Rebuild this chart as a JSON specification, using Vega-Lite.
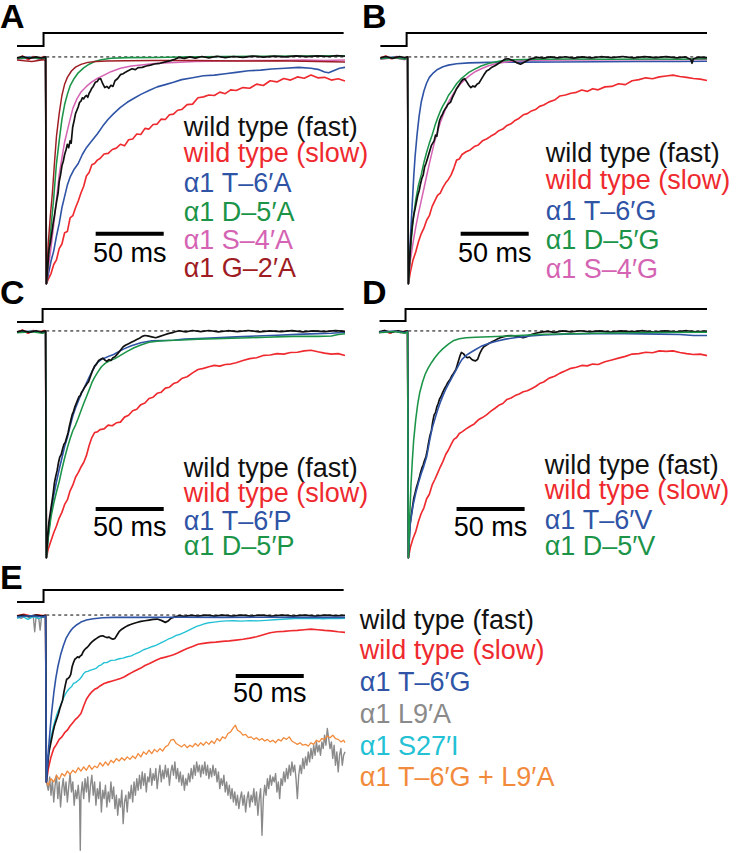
{
"$schema":"https://vega.github.io/schema/vega-lite/v6.json",
"background":"white",
"padding":{"left":0,"top":0,"right":0,"bottom":0},
"config":{"view":{"stroke":null},"axis":{"disable":true},"font":"Liberation Sans"},
"datasets":{
"stA":[{"t":-21,"v":0.048},{"t":-1.5,"v":0.106},{"t":219,"v":0.106}],
"stB":[{"t":-20,"v":0.048},{"t":-0.7,"v":0.106},{"t":220,"v":0.106}],
"stC":[{"t":-21,"v":0.04},{"t":-2.2,"v":0.097},{"t":219,"v":0.097}],
"stD":[{"t":-20.6,"v":0.044},{"t":-1.5,"v":0.097},{"t":220,"v":0.097}],
"stE":[{"t":-21,"v":0.078},{"t":-1.5,"v":0.15},{"t":219,"v":0.15}],
"labA":[{"k":"f","label":"wild type (fast)","t":101.5,"v":-0.348},{"k":"ws","label":"wild type (slow)","t":101.5,"v":-0.463},{"k":"b","label":"α1 T–6′A","t":101.5,"v":-0.595},{"k":"g","label":"α1 D–5′A","t":101.5,"v":-0.722},{"k":"p","label":"α1 S–4′A","t":101.5,"v":-0.846},{"k":"r","label":"α1 G–2′A","t":101.5,"v":-0.969}],
"labB":[{"k":"f","label":"wild type (fast)","t":101.5,"v":-0.463},{"k":"ws","label":"wild type (slow)","t":101.5,"v":-0.581},{"k":"b","label":"α1 T–6′G","t":101.5,"v":-0.718},{"k":"g","label":"α1 D–5′G","t":101.5,"v":-0.846},{"k":"p","label":"α1 S–4′G","t":101.5,"v":-0.974}],
"labC":[{"k":"f","label":"wild type (fast)","t":101.5,"v":-0.644},{"k":"ws","label":"wild type (slow)","t":101.5,"v":-0.754},{"k":"b","label":"α1 T–6′P","t":101.5,"v":-0.877},{"k":"g","label":"α1 D–5′P","t":101.5,"v":-0.988}],
"labD":[{"k":"f","label":"wild type (fast)","t":100.7,"v":-0.631},{"k":"ws","label":"wild type (slow)","t":100.7,"v":-0.741},{"k":"b","label":"α1 T–6′V","t":100.7,"v":-0.873},{"k":"g","label":"α1 D–5′V","t":100.7,"v":-0.988}],
"labE":[{"k":"f","label":"wild type (fast)","t":230.9,"v":-0.084},{"k":"ws","label":"wild type (slow)","t":230.9,"v":-0.263},{"k":"b","label":"α1 T–6′G","t":230.9,"v":-0.455},{"k":"l","label":"α1 L9′A","t":230.9,"v":-0.647},{"k":"c","label":"α1 S27′I","t":230.9,"v":-0.838},{"k":"o","label":"α1 T–6′G + L9′A","t":230.9,"v":-1.024}],
"A":[
{"k":"ws","t":-21,"v":-0.01},{"k":"ws","t":-17,"v":0.004},{"k":"ws","t":-13,"v":-0.012},{"k":"ws","t":-9,"v":0.002},{"k":"ws","t":-5,"v":-0.008},{"k":"ws","t":-1,"v":0.002},{"k":"ws","t":0,"v":-0.004},{"k":"ws","t":0.6,"v":-1.0},{"k":"ws","t":2,"v":-0.98},{"k":"ws","t":4,"v":-0.955},{"k":"ws","t":6,"v":-0.915},{"k":"ws","t":8,"v":-0.895},{"k":"ws","t":10,"v":-0.845},{"k":"ws","t":12,"v":-0.825},{"k":"ws","t":14,"v":-0.775},{"k":"ws","t":16,"v":-0.77},{"k":"ws","t":18,"v":-0.71},{"k":"ws","t":20,"v":-0.7},{"k":"ws","t":22,"v":-0.665},{"k":"ws","t":24,"v":-0.635},{"k":"ws","t":26,"v":-0.6},{"k":"ws","t":28,"v":-0.57},{"k":"ws","t":30,"v":-0.525},{"k":"ws","t":32,"v":-0.51},{"k":"ws","t":34,"v":-0.475},{"k":"ws","t":36,"v":-0.47},{"k":"ws","t":38,"v":-0.455},{"k":"ws","t":40,"v":-0.448},{"k":"ws","t":43,"v":-0.428},{"k":"ws","t":46,"v":-0.425},{"k":"ws","t":49,"v":-0.408},{"k":"ws","t":52,"v":-0.402},{"k":"ws","t":55,"v":-0.385},{"k":"ws","t":58,"v":-0.392},{"k":"ws","t":61,"v":-0.365},{"k":"ws","t":64,"v":-0.362},{"k":"ws","t":67,"v":-0.34},{"k":"ws","t":70,"v":-0.342},{"k":"ws","t":73,"v":-0.315},{"k":"ws","t":76,"v":-0.318},{"k":"ws","t":79,"v":-0.298},{"k":"ws","t":82,"v":-0.296},{"k":"ws","t":85,"v":-0.274},{"k":"ws","t":88,"v":-0.276},{"k":"ws","t":91,"v":-0.255},{"k":"ws","t":94,"v":-0.252},{"k":"ws","t":97,"v":-0.235},{"k":"ws","t":100,"v":-0.232},{"k":"ws","t":104,"v":-0.21},{"k":"ws","t":108,"v":-0.208},{"k":"ws","t":112,"v":-0.18},{"k":"ws","t":116,"v":-0.176},{"k":"ws","t":120,"v":-0.168},{"k":"ws","t":124,"v":-0.17},{"k":"ws","t":128,"v":-0.155},{"k":"ws","t":132,"v":-0.162},{"k":"ws","t":136,"v":-0.145},{"k":"ws","t":140,"v":-0.148},{"k":"ws","t":145,"v":-0.135},{"k":"ws","t":150,"v":-0.138},{"k":"ws","t":155,"v":-0.12},{"k":"ws","t":160,"v":-0.126},{"k":"ws","t":165,"v":-0.105},{"k":"ws","t":170,"v":-0.11},{"k":"ws","t":175,"v":-0.095},{"k":"ws","t":180,"v":-0.102},{"k":"ws","t":185,"v":-0.088},{"k":"ws","t":190,"v":-0.094},{"k":"ws","t":195,"v":-0.08},{"k":"ws","t":200,"v":-0.092},{"k":"ws","t":205,"v":-0.09},{"k":"ws","t":210,"v":-0.102},{"k":"ws","t":215,"v":-0.096},{"k":"ws","t":220,"v":-0.106},
{"k":"b","t":-21,"v":-0.006},{"k":"b","t":-12,"v":0.0},{"k":"b","t":-4,"v":-0.008},{"k":"b","t":0,"v":0.0},{"k":"b","t":0.6,"v":-1.0},{"k":"b","t":2,"v":-0.96},{"k":"b","t":4,"v":-0.9},{"k":"b","t":6,"v":-0.855},{"k":"b","t":8,"v":-0.79},{"k":"b","t":10,"v":-0.735},{"k":"b","t":12,"v":-0.665},{"k":"b","t":14,"v":-0.615},{"k":"b","t":16,"v":-0.565},{"k":"b","t":18,"v":-0.53},{"k":"b","t":21,"v":-0.495},{"k":"b","t":24,"v":-0.47},{"k":"b","t":27,"v":-0.43},{"k":"b","t":30,"v":-0.4},{"k":"b","t":34,"v":-0.37},{"k":"b","t":38,"v":-0.34},{"k":"b","t":42,"v":-0.305},{"k":"b","t":46,"v":-0.275},{"k":"b","t":50,"v":-0.25},{"k":"b","t":55,"v":-0.222},{"k":"b","t":60,"v":-0.2},{"k":"b","t":65,"v":-0.182},{"k":"b","t":70,"v":-0.165},{"k":"b","t":76,"v":-0.148},{"k":"b","t":82,"v":-0.132},{"k":"b","t":88,"v":-0.122},{"k":"b","t":94,"v":-0.112},{"k":"b","t":100,"v":-0.1},{"k":"b","t":108,"v":-0.092},{"k":"b","t":116,"v":-0.083},{"k":"b","t":124,"v":-0.08},{"k":"b","t":132,"v":-0.074},{"k":"b","t":140,"v":-0.068},{"k":"b","t":149,"v":-0.061},{"k":"b","t":158,"v":-0.058},{"k":"b","t":166,"v":-0.053},{"k":"b","t":176,"v":-0.05},{"k":"b","t":186,"v":-0.046},{"k":"b","t":195,"v":-0.05},{"k":"b","t":201,"v":-0.056},{"k":"b","t":205,"v":-0.066},{"k":"b","t":208,"v":-0.07},{"k":"b","t":212,"v":-0.06},{"k":"b","t":216,"v":-0.05},{"k":"b","t":220,"v":-0.046},
{"k":"p","t":-21,"v":-0.01},{"k":"p","t":-10,"v":-0.004},{"k":"p","t":-2,"v":-0.012},{"k":"p","t":0,"v":-0.005},{"k":"p","t":0.6,"v":-1.0},{"k":"p","t":2,"v":-0.93},{"k":"p","t":4,"v":-0.84},{"k":"p","t":6,"v":-0.74},{"k":"p","t":8,"v":-0.63},{"k":"p","t":10,"v":-0.52},{"k":"p","t":12,"v":-0.445},{"k":"p","t":14,"v":-0.375},{"k":"p","t":16,"v":-0.325},{"k":"p","t":18,"v":-0.275},{"k":"p","t":20,"v":-0.228},{"k":"p","t":23,"v":-0.185},{"k":"p","t":26,"v":-0.155},{"k":"p","t":30,"v":-0.13},{"k":"p","t":34,"v":-0.11},{"k":"p","t":38,"v":-0.095},{"k":"p","t":43,"v":-0.08},{"k":"p","t":48,"v":-0.065},{"k":"p","t":55,"v":-0.05},{"k":"p","t":63,"v":-0.04},{"k":"p","t":72,"v":-0.034},{"k":"p","t":82,"v":-0.028},{"k":"p","t":95,"v":-0.024},{"k":"p","t":110,"v":-0.02},{"k":"p","t":130,"v":-0.018},{"k":"p","t":150,"v":-0.016},{"k":"p","t":170,"v":-0.016},{"k":"p","t":190,"v":-0.014},{"k":"p","t":205,"v":-0.016},{"k":"p","t":220,"v":-0.013},
{"k":"g","t":-21,"v":-0.008},{"k":"g","t":-10,"v":-0.002},{"k":"g","t":-2,"v":-0.01},{"k":"g","t":0,"v":-0.003},{"k":"g","t":0.6,"v":-1.0},{"k":"g","t":2,"v":-0.88},{"k":"g","t":4,"v":-0.75},{"k":"g","t":6,"v":-0.62},{"k":"g","t":8,"v":-0.47},{"k":"g","t":10,"v":-0.37},{"k":"g","t":12,"v":-0.275},{"k":"g","t":14,"v":-0.21},{"k":"g","t":16,"v":-0.165},{"k":"g","t":18,"v":-0.128},{"k":"g","t":21,"v":-0.095},{"k":"g","t":24,"v":-0.07},{"k":"g","t":28,"v":-0.048},{"k":"g","t":32,"v":-0.032},{"k":"g","t":36,"v":-0.02},{"k":"g","t":41,"v":-0.012},{"k":"g","t":48,"v":-0.006},{"k":"g","t":60,"v":-0.003},{"k":"g","t":80,"v":-0.002},{"k":"g","t":100,"v":0.0},{"k":"g","t":130,"v":0.002},{"k":"g","t":160,"v":0.003},{"k":"g","t":190,"v":0.004},{"k":"g","t":220,"v":0.005},
{"k":"r","t":-21,"v":-0.014},{"k":"r","t":-10,"v":-0.02},{"k":"r","t":-2,"v":-0.012},{"k":"r","t":0,"v":-0.016},{"k":"r","t":0.6,"v":-1.0},{"k":"r","t":2,"v":-0.82},{"k":"r","t":3.5,"v":-0.7},{"k":"r","t":5,"v":-0.6},{"k":"r","t":6.5,"v":-0.47},{"k":"r","t":8,"v":-0.35},{"k":"r","t":10,"v":-0.25},{"k":"r","t":12,"v":-0.17},{"k":"r","t":14,"v":-0.12},{"k":"r","t":16,"v":-0.09},{"k":"r","t":19,"v":-0.062},{"k":"r","t":22,"v":-0.045},{"k":"r","t":26,"v":-0.033},{"k":"r","t":31,"v":-0.024},{"k":"r","t":37,"v":-0.02},{"k":"r","t":45,"v":-0.018},{"k":"r","t":60,"v":-0.017},{"k":"r","t":80,"v":-0.016},{"k":"r","t":110,"v":-0.016},{"k":"r","t":140,"v":-0.018},{"k":"r","t":170,"v":-0.017},{"k":"r","t":200,"v":-0.02},{"k":"r","t":220,"v":-0.022},
{"k":"f","t":-21,"v":-0.004},{"k":"f","t":-17,"v":0.002},{"k":"f","t":-12,"v":-0.006},{"k":"f","t":-7,"v":0.0},{"k":"f","t":-3,"v":-0.004},{"k":"f","t":0,"v":0.0},{"k":"f","t":0.6,"v":-1.0},{"k":"f","t":1.5,"v":-0.93},{"k":"f","t":2.5,"v":-0.85},{"k":"f","t":3.5,"v":-0.82},{"k":"f","t":4.7,"v":-0.77},{"k":"f","t":5.5,"v":-0.735},{"k":"f","t":6.5,"v":-0.7},{"k":"f","t":7.5,"v":-0.66},{"k":"f","t":8.3,"v":-0.63},{"k":"f","t":9.2,"v":-0.6},{"k":"f","t":10,"v":-0.55},{"k":"f","t":11,"v":-0.52},{"k":"f","t":12,"v":-0.48},{"k":"f","t":13,"v":-0.46},{"k":"f","t":14,"v":-0.43},{"k":"f","t":15,"v":-0.41},{"k":"f","t":16,"v":-0.385},{"k":"f","t":17,"v":-0.4},{"k":"f","t":18,"v":-0.37},{"k":"f","t":18.8,"v":-0.38},{"k":"f","t":19.9,"v":-0.31},{"k":"f","t":21,"v":-0.28},{"k":"f","t":22,"v":-0.25},{"k":"f","t":23,"v":-0.235},{"k":"f","t":24,"v":-0.22},{"k":"f","t":25,"v":-0.2},{"k":"f","t":26,"v":-0.195},{"k":"f","t":27,"v":-0.18},{"k":"f","t":28,"v":-0.185},{"k":"f","t":29,"v":-0.175},{"k":"f","t":30,"v":-0.17},{"k":"f","t":31,"v":-0.178},{"k":"f","t":32,"v":-0.16},{"k":"f","t":33,"v":-0.15},{"k":"f","t":34,"v":-0.138},{"k":"f","t":35,"v":-0.13},{"k":"f","t":36.5,"v":-0.112},{"k":"f","t":38,"v":-0.108},{"k":"f","t":39,"v":-0.098},{"k":"f","t":40.5,"v":-0.096},{"k":"f","t":42,"v":-0.118},{"k":"f","t":43.5,"v":-0.135},{"k":"f","t":45,"v":-0.13},{"k":"f","t":46.5,"v":-0.138},{"k":"f","t":48,"v":-0.125},{"k":"f","t":49.5,"v":-0.13},{"k":"f","t":51,"v":-0.105},{"k":"f","t":53,"v":-0.095},{"k":"f","t":55,"v":-0.078},{"k":"f","t":57,"v":-0.074},{"k":"f","t":59,"v":-0.066},{"k":"f","t":61,"v":-0.06},{"k":"f","t":63.5,"v":-0.052},{"k":"f","t":66,"v":-0.056},{"k":"f","t":68,"v":-0.047},{"k":"f","t":71,"v":-0.046},{"k":"f","t":74,"v":-0.04},{"k":"f","t":77,"v":-0.036},{"k":"f","t":80,"v":-0.031},{"k":"f","t":84,"v":-0.028},{"k":"f","t":88,"v":-0.022},{"k":"f","t":92,"v":-0.016},{"k":"f","t":95,"v":-0.01},{"k":"f","t":98,"v":-0.002},{"k":"f","t":102,"v":-0.006},{"k":"f","t":106,"v":0.0},{"k":"f","t":110,"v":-0.005},{"k":"f","t":115,"v":0.002},{"k":"f","t":120,"v":-0.004},{"k":"f","t":126,"v":0.003},{"k":"f","t":132,"v":-0.003},{"k":"f","t":138,"v":0.002},{"k":"f","t":145,"v":-0.002},{"k":"f","t":152,"v":0.004},{"k":"f","t":160,"v":-0.001},{"k":"f","t":168,"v":0.004},{"k":"f","t":176,"v":0.0},{"k":"f","t":184,"v":0.005},{"k":"f","t":192,"v":0.001},{"k":"f","t":200,"v":0.005},{"k":"f","t":208,"v":0.002},{"k":"f","t":214,"v":0.006},{"k":"f","t":220,"v":0.003}
],
"B":[
{"k":"ws","t":-20,"v":-0.004},{"k":"ws","t":-16,"v":0.004},{"k":"ws","t":-12,"v":-0.008},{"k":"ws","t":-8,"v":0.002},{"k":"ws","t":-4,"v":-0.006},{"k":"ws","t":0,"v":0.0},{"k":"ws","t":0.6,"v":-1.0},{"k":"ws","t":2,"v":-0.95},{"k":"ws","t":4,"v":-0.895},{"k":"ws","t":6,"v":-0.86},{"k":"ws","t":8,"v":-0.815},{"k":"ws","t":10,"v":-0.78},{"k":"ws","t":12,"v":-0.755},{"k":"ws","t":14,"v":-0.72},{"k":"ws","t":16,"v":-0.7},{"k":"ws","t":18,"v":-0.66},{"k":"ws","t":20,"v":-0.635},{"k":"ws","t":22,"v":-0.61},{"k":"ws","t":24,"v":-0.6},{"k":"ws","t":26,"v":-0.575},{"k":"ws","t":28,"v":-0.555},{"k":"ws","t":30,"v":-0.54},{"k":"ws","t":32,"v":-0.52},{"k":"ws","t":34,"v":-0.49},{"k":"ws","t":36,"v":-0.455},{"k":"ws","t":38,"v":-0.45},{"k":"ws","t":40,"v":-0.43},{"k":"ws","t":43,"v":-0.418},{"k":"ws","t":46,"v":-0.41},{"k":"ws","t":49,"v":-0.395},{"k":"ws","t":52,"v":-0.388},{"k":"ws","t":55,"v":-0.37},{"k":"ws","t":58,"v":-0.362},{"k":"ws","t":61,"v":-0.35},{"k":"ws","t":64,"v":-0.34},{"k":"ws","t":67,"v":-0.325},{"k":"ws","t":70,"v":-0.318},{"k":"ws","t":73,"v":-0.302},{"k":"ws","t":76,"v":-0.295},{"k":"ws","t":79,"v":-0.28},{"k":"ws","t":82,"v":-0.27},{"k":"ws","t":85,"v":-0.255},{"k":"ws","t":88,"v":-0.25},{"k":"ws","t":91,"v":-0.238},{"k":"ws","t":94,"v":-0.232},{"k":"ws","t":97,"v":-0.218},{"k":"ws","t":100,"v":-0.212},{"k":"ws","t":104,"v":-0.198},{"k":"ws","t":108,"v":-0.19},{"k":"ws","t":112,"v":-0.172},{"k":"ws","t":116,"v":-0.168},{"k":"ws","t":120,"v":-0.16},{"k":"ws","t":124,"v":-0.156},{"k":"ws","t":128,"v":-0.146},{"k":"ws","t":132,"v":-0.152},{"k":"ws","t":136,"v":-0.14},{"k":"ws","t":140,"v":-0.145},{"k":"ws","t":145,"v":-0.132},{"k":"ws","t":150,"v":-0.13},{"k":"ws","t":155,"v":-0.118},{"k":"ws","t":160,"v":-0.122},{"k":"ws","t":165,"v":-0.105},{"k":"ws","t":170,"v":-0.1},{"k":"ws","t":175,"v":-0.092},{"k":"ws","t":180,"v":-0.096},{"k":"ws","t":185,"v":-0.088},{"k":"ws","t":190,"v":-0.084},{"k":"ws","t":195,"v":-0.08},{"k":"ws","t":200,"v":-0.086},{"k":"ws","t":205,"v":-0.09},{"k":"ws","t":210,"v":-0.095},{"k":"ws","t":215,"v":-0.098},{"k":"ws","t":220,"v":-0.104},
{"k":"b","t":-20,"v":-0.006},{"k":"b","t":-10,"v":0.0},{"k":"b","t":-2,"v":-0.008},{"k":"b","t":0,"v":-0.002},{"k":"b","t":0.6,"v":-1.0},{"k":"b","t":1.5,"v":-0.88},{"k":"b","t":2.5,"v":-0.75},{"k":"b","t":3.5,"v":-0.64},{"k":"b","t":4.5,"v":-0.53},{"k":"b","t":5.5,"v":-0.44},{"k":"b","t":7,"v":-0.34},{"k":"b","t":8.5,"v":-0.26},{"k":"b","t":10,"v":-0.2},{"k":"b","t":12,"v":-0.15},{"k":"b","t":14,"v":-0.115},{"k":"b","t":16,"v":-0.09},{"k":"b","t":19,"v":-0.07},{"k":"b","t":22,"v":-0.055},{"k":"b","t":26,"v":-0.043},{"k":"b","t":30,"v":-0.036},{"k":"b","t":36,"v":-0.03},{"k":"b","t":45,"v":-0.026},{"k":"b","t":60,"v":-0.024},{"k":"b","t":80,"v":-0.023},{"k":"b","t":110,"v":-0.022},{"k":"b","t":140,"v":-0.021},{"k":"b","t":170,"v":-0.02},{"k":"b","t":200,"v":-0.02},{"k":"b","t":220,"v":-0.019},
{"k":"p","t":-20,"v":-0.01},{"k":"p","t":-10,"v":-0.004},{"k":"p","t":-2,"v":-0.012},{"k":"p","t":0,"v":-0.006},{"k":"p","t":0.6,"v":-1.0},{"k":"p","t":2,"v":-0.9},{"k":"p","t":4,"v":-0.82},{"k":"p","t":6,"v":-0.75},{"k":"p","t":8,"v":-0.69},{"k":"p","t":10,"v":-0.635},{"k":"p","t":12,"v":-0.58},{"k":"p","t":14,"v":-0.525},{"k":"p","t":16,"v":-0.47},{"k":"p","t":18,"v":-0.42},{"k":"p","t":20,"v":-0.37},{"k":"p","t":22,"v":-0.33},{"k":"p","t":24,"v":-0.29},{"k":"p","t":26,"v":-0.258},{"k":"p","t":28,"v":-0.228},{"k":"p","t":30,"v":-0.2},{"k":"p","t":33,"v":-0.168},{"k":"p","t":36,"v":-0.14},{"k":"p","t":39,"v":-0.118},{"k":"p","t":42,"v":-0.1},{"k":"p","t":46,"v":-0.08},{"k":"p","t":50,"v":-0.064},{"k":"p","t":55,"v":-0.05},{"k":"p","t":60,"v":-0.038},{"k":"p","t":67,"v":-0.027},{"k":"p","t":75,"v":-0.02},{"k":"p","t":90,"v":-0.015},{"k":"p","t":120,"v":-0.013},{"k":"p","t":160,"v":-0.012},{"k":"p","t":190,"v":-0.012},{"k":"p","t":220,"v":-0.011},
{"k":"g","t":-20,"v":-0.008},{"k":"g","t":-10,"v":-0.002},{"k":"g","t":-2,"v":-0.01},{"k":"g","t":0,"v":-0.004},{"k":"g","t":0.6,"v":-1.0},{"k":"g","t":2,"v":-0.86},{"k":"g","t":4,"v":-0.72},{"k":"g","t":6,"v":-0.63},{"k":"g","t":8,"v":-0.565},{"k":"g","t":10,"v":-0.52},{"k":"g","t":12,"v":-0.465},{"k":"g","t":14,"v":-0.42},{"k":"g","t":16,"v":-0.38},{"k":"g","t":18,"v":-0.345},{"k":"g","t":20,"v":-0.305},{"k":"g","t":22,"v":-0.27},{"k":"g","t":24,"v":-0.24},{"k":"g","t":26,"v":-0.215},{"k":"g","t":28,"v":-0.195},{"k":"g","t":30,"v":-0.17},{"k":"g","t":33,"v":-0.145},{"k":"g","t":36,"v":-0.118},{"k":"g","t":39,"v":-0.098},{"k":"g","t":42,"v":-0.083},{"k":"g","t":45,"v":-0.068},{"k":"g","t":49,"v":-0.055},{"k":"g","t":54,"v":-0.04},{"k":"g","t":60,"v":-0.028},{"k":"g","t":68,"v":-0.018},{"k":"g","t":78,"v":-0.012},{"k":"g","t":95,"v":-0.01},{"k":"g","t":120,"v":-0.009},{"k":"g","t":150,"v":-0.01},{"k":"g","t":180,"v":-0.009},{"k":"g","t":200,"v":-0.01},{"k":"g","t":220,"v":-0.008},
{"k":"f","t":-20,"v":-0.004},{"k":"f","t":-16,"v":0.002},{"k":"f","t":-11,"v":-0.006},{"k":"f","t":-6,"v":0.002},{"k":"f","t":-2,"v":-0.003},{"k":"f","t":0,"v":0.0},{"k":"f","t":0.6,"v":-1.0},{"k":"f","t":1.5,"v":-0.9},{"k":"f","t":2.5,"v":-0.8},{"k":"f","t":3.5,"v":-0.74},{"k":"f","t":4.5,"v":-0.7},{"k":"f","t":5.5,"v":-0.67},{"k":"f","t":6.5,"v":-0.64},{"k":"f","t":7.5,"v":-0.61},{"k":"f","t":8.5,"v":-0.59},{"k":"f","t":9.5,"v":-0.56},{"k":"f","t":10.5,"v":-0.535},{"k":"f","t":11.5,"v":-0.52},{"k":"f","t":12.5,"v":-0.485},{"k":"f","t":13.5,"v":-0.47},{"k":"f","t":14.5,"v":-0.45},{"k":"f","t":15.5,"v":-0.43},{"k":"f","t":16.5,"v":-0.41},{"k":"f","t":17.5,"v":-0.39},{"k":"f","t":18.5,"v":-0.38},{"k":"f","t":19.5,"v":-0.37},{"k":"f","t":20.5,"v":-0.345},{"k":"f","t":21.5,"v":-0.35},{"k":"f","t":22.5,"v":-0.31},{"k":"f","t":23.5,"v":-0.28},{"k":"f","t":24.5,"v":-0.265},{"k":"f","t":25.5,"v":-0.255},{"k":"f","t":26.5,"v":-0.24},{"k":"f","t":27.5,"v":-0.23},{"k":"f","t":28.5,"v":-0.222},{"k":"f","t":29.5,"v":-0.21},{"k":"f","t":30.5,"v":-0.205},{"k":"f","t":31.5,"v":-0.2},{"k":"f","t":33,"v":-0.178},{"k":"f","t":34.5,"v":-0.16},{"k":"f","t":36,"v":-0.14},{"k":"f","t":37.5,"v":-0.126},{"k":"f","t":39,"v":-0.112},{"k":"f","t":40.5,"v":-0.1},{"k":"f","t":42,"v":-0.096},{"k":"f","t":43.5,"v":-0.11},{"k":"f","t":45,"v":-0.125},{"k":"f","t":46.5,"v":-0.135},{"k":"f","t":48,"v":-0.128},{"k":"f","t":49.5,"v":-0.132},{"k":"f","t":51,"v":-0.12},{"k":"f","t":52.5,"v":-0.115},{"k":"f","t":54,"v":-0.1},{"k":"f","t":56,"v":-0.08},{"k":"f","t":58,"v":-0.062},{"k":"f","t":60,"v":-0.055},{"k":"f","t":62,"v":-0.045},{"k":"f","t":64.5,"v":-0.038},{"k":"f","t":67,"v":-0.028},{"k":"f","t":69,"v":-0.02},{"k":"f","t":71.5,"v":-0.01},{"k":"f","t":74,"v":-0.008},{"k":"f","t":77,"v":-0.015},{"k":"f","t":80,"v":-0.025},{"k":"f","t":83,"v":-0.032},{"k":"f","t":86,"v":-0.022},{"k":"f","t":89,"v":-0.012},{"k":"f","t":92,"v":-0.006},{"k":"f","t":95,"v":-0.002},{"k":"f","t":100,"v":-0.005},{"k":"f","t":105,"v":0.0},{"k":"f","t":110,"v":-0.004},{"k":"f","t":116,"v":0.001},{"k":"f","t":122,"v":-0.005},{"k":"f","t":128,"v":0.0},{"k":"f","t":135,"v":-0.004},{"k":"f","t":142,"v":0.001},{"k":"f","t":150,"v":-0.003},{"k":"f","t":158,"v":0.002},{"k":"f","t":166,"v":-0.004},{"k":"f","t":174,"v":0.001},{"k":"f","t":182,"v":-0.003},{"k":"f","t":190,"v":0.001},{"k":"f","t":198,"v":-0.004},{"k":"f","t":204,"v":0.0},{"k":"f","t":208,"v":-0.01},{"k":"f","t":209,"v":-0.028},{"k":"f","t":210,"v":-0.008},{"k":"f","t":214,"v":-0.001},{"k":"f","t":220,"v":-0.003}
],
"C":[
{"k":"ws","t":-21,"v":-0.006},{"k":"ws","t":-17,"v":0.004},{"k":"ws","t":-13,"v":-0.01},{"k":"ws","t":-9,"v":0.002},{"k":"ws","t":-5,"v":-0.006},{"k":"ws","t":-1,"v":0.002},{"k":"ws","t":0,"v":-0.002},{"k":"ws","t":0.6,"v":-1.0},{"k":"ws","t":2,"v":-0.96},{"k":"ws","t":4,"v":-0.925},{"k":"ws","t":6,"v":-0.89},{"k":"ws","t":8,"v":-0.86},{"k":"ws","t":10,"v":-0.825},{"k":"ws","t":12,"v":-0.8},{"k":"ws","t":14,"v":-0.765},{"k":"ws","t":16,"v":-0.745},{"k":"ws","t":18,"v":-0.705},{"k":"ws","t":20,"v":-0.68},{"k":"ws","t":22,"v":-0.645},{"k":"ws","t":24,"v":-0.625},{"k":"ws","t":26,"v":-0.6},{"k":"ws","t":28,"v":-0.58},{"k":"ws","t":30,"v":-0.55},{"k":"ws","t":32,"v":-0.505},{"k":"ws","t":34,"v":-0.47},{"k":"ws","t":36,"v":-0.448},{"k":"ws","t":38,"v":-0.445},{"k":"ws","t":40,"v":-0.435},{"k":"ws","t":43,"v":-0.432},{"k":"ws","t":46,"v":-0.415},{"k":"ws","t":49,"v":-0.418},{"k":"ws","t":52,"v":-0.405},{"k":"ws","t":55,"v":-0.402},{"k":"ws","t":58,"v":-0.38},{"k":"ws","t":61,"v":-0.372},{"k":"ws","t":64,"v":-0.352},{"k":"ws","t":67,"v":-0.345},{"k":"ws","t":70,"v":-0.325},{"k":"ws","t":73,"v":-0.318},{"k":"ws","t":76,"v":-0.298},{"k":"ws","t":79,"v":-0.292},{"k":"ws","t":82,"v":-0.275},{"k":"ws","t":85,"v":-0.27},{"k":"ws","t":88,"v":-0.252},{"k":"ws","t":91,"v":-0.248},{"k":"ws","t":94,"v":-0.232},{"k":"ws","t":97,"v":-0.226},{"k":"ws","t":100,"v":-0.21},{"k":"ws","t":104,"v":-0.202},{"k":"ws","t":108,"v":-0.185},{"k":"ws","t":112,"v":-0.17},{"k":"ws","t":116,"v":-0.165},{"k":"ws","t":120,"v":-0.158},{"k":"ws","t":124,"v":-0.152},{"k":"ws","t":128,"v":-0.155},{"k":"ws","t":132,"v":-0.148},{"k":"ws","t":136,"v":-0.146},{"k":"ws","t":140,"v":-0.14},{"k":"ws","t":145,"v":-0.13},{"k":"ws","t":150,"v":-0.122},{"k":"ws","t":155,"v":-0.118},{"k":"ws","t":160,"v":-0.108},{"k":"ws","t":165,"v":-0.106},{"k":"ws","t":170,"v":-0.1},{"k":"ws","t":175,"v":-0.102},{"k":"ws","t":180,"v":-0.095},{"k":"ws","t":185,"v":-0.094},{"k":"ws","t":190,"v":-0.088},{"k":"ws","t":195,"v":-0.085},{"k":"ws","t":200,"v":-0.092},{"k":"ws","t":205,"v":-0.098},{"k":"ws","t":210,"v":-0.102},{"k":"ws","t":215,"v":-0.1},{"k":"ws","t":220,"v":-0.108},
{"k":"b","t":-21,"v":-0.006},{"k":"b","t":-10,"v":0.0},{"k":"b","t":-2,"v":-0.008},{"k":"b","t":0,"v":-0.002},{"k":"b","t":0.6,"v":-1.0},{"k":"b","t":2,"v":-0.9},{"k":"b","t":4,"v":-0.8},{"k":"b","t":6,"v":-0.725},{"k":"b","t":8,"v":-0.665},{"k":"b","t":10,"v":-0.61},{"k":"b","t":12,"v":-0.56},{"k":"b","t":14,"v":-0.51},{"k":"b","t":16,"v":-0.47},{"k":"b","t":18,"v":-0.42},{"k":"b","t":20,"v":-0.375},{"k":"b","t":22,"v":-0.34},{"k":"b","t":24,"v":-0.31},{"k":"b","t":26,"v":-0.28},{"k":"b","t":28,"v":-0.255},{"k":"b","t":30,"v":-0.23},{"k":"b","t":32,"v":-0.205},{"k":"b","t":34,"v":-0.18},{"k":"b","t":36,"v":-0.158},{"k":"b","t":38,"v":-0.14},{"k":"b","t":41,"v":-0.125},{"k":"b","t":44,"v":-0.118},{"k":"b","t":47,"v":-0.11},{"k":"b","t":50,"v":-0.104},{"k":"b","t":54,"v":-0.09},{"k":"b","t":58,"v":-0.078},{"k":"b","t":63,"v":-0.065},{"k":"b","t":70,"v":-0.052},{"k":"b","t":78,"v":-0.043},{"k":"b","t":86,"v":-0.042},{"k":"b","t":94,"v":-0.041},{"k":"b","t":102,"v":-0.036},{"k":"b","t":112,"v":-0.033},{"k":"b","t":125,"v":-0.03},{"k":"b","t":140,"v":-0.026},{"k":"b","t":155,"v":-0.022},{"k":"b","t":170,"v":-0.019},{"k":"b","t":185,"v":-0.015},{"k":"b","t":200,"v":-0.012},{"k":"b","t":210,"v":-0.01},{"k":"b","t":220,"v":-0.006},
{"k":"g","t":-21,"v":-0.008},{"k":"g","t":-10,"v":-0.003},{"k":"g","t":-2,"v":-0.01},{"k":"g","t":0,"v":-0.004},{"k":"g","t":0.6,"v":-1.0},{"k":"g","t":2,"v":-0.91},{"k":"g","t":4,"v":-0.82},{"k":"g","t":6,"v":-0.76},{"k":"g","t":8,"v":-0.71},{"k":"g","t":10,"v":-0.665},{"k":"g","t":12,"v":-0.61},{"k":"g","t":14,"v":-0.56},{"k":"g","t":16,"v":-0.515},{"k":"g","t":18,"v":-0.475},{"k":"g","t":20,"v":-0.44},{"k":"g","t":22,"v":-0.415},{"k":"g","t":24,"v":-0.385},{"k":"g","t":26,"v":-0.352},{"k":"g","t":28,"v":-0.32},{"k":"g","t":30,"v":-0.29},{"k":"g","t":32,"v":-0.26},{"k":"g","t":34,"v":-0.228},{"k":"g","t":36,"v":-0.205},{"k":"g","t":38,"v":-0.185},{"k":"g","t":41,"v":-0.158},{"k":"g","t":44,"v":-0.142},{"k":"g","t":47,"v":-0.132},{"k":"g","t":51,"v":-0.122},{"k":"g","t":55,"v":-0.108},{"k":"g","t":60,"v":-0.09},{"k":"g","t":65,"v":-0.074},{"k":"g","t":70,"v":-0.062},{"k":"g","t":76,"v":-0.05},{"k":"g","t":82,"v":-0.045},{"k":"g","t":90,"v":-0.042},{"k":"g","t":100,"v":-0.04},{"k":"g","t":112,"v":-0.036},{"k":"g","t":125,"v":-0.034},{"k":"g","t":137,"v":-0.032},{"k":"g","t":150,"v":-0.03},{"k":"g","t":162,"v":-0.028},{"k":"g","t":175,"v":-0.025},{"k":"g","t":188,"v":-0.023},{"k":"g","t":200,"v":-0.024},{"k":"g","t":210,"v":-0.022},{"k":"g","t":215,"v":-0.016},{"k":"g","t":220,"v":-0.012},
{"k":"f","t":-21,"v":-0.004},{"k":"f","t":-17,"v":0.002},{"k":"f","t":-12,"v":-0.006},{"k":"f","t":-7,"v":0.001},{"k":"f","t":-3,"v":-0.004},{"k":"f","t":0,"v":0.0},{"k":"f","t":0.6,"v":-1.0},{"k":"f","t":1.5,"v":-0.91},{"k":"f","t":2.5,"v":-0.84},{"k":"f","t":3.5,"v":-0.8},{"k":"f","t":4.5,"v":-0.76},{"k":"f","t":5.5,"v":-0.72},{"k":"f","t":6.5,"v":-0.67},{"k":"f","t":7.5,"v":-0.64},{"k":"f","t":8.5,"v":-0.615},{"k":"f","t":9.5,"v":-0.58},{"k":"f","t":10.5,"v":-0.555},{"k":"f","t":11.5,"v":-0.545},{"k":"f","t":12.5,"v":-0.52},{"k":"f","t":13.5,"v":-0.5},{"k":"f","t":14.5,"v":-0.49},{"k":"f","t":15.5,"v":-0.47},{"k":"f","t":16.5,"v":-0.45},{"k":"f","t":17.5,"v":-0.42},{"k":"f","t":18.5,"v":-0.395},{"k":"f","t":19.5,"v":-0.37},{"k":"f","t":20.5,"v":-0.355},{"k":"f","t":21.5,"v":-0.335},{"k":"f","t":22.5,"v":-0.32},{"k":"f","t":23.5,"v":-0.305},{"k":"f","t":24.5,"v":-0.29},{"k":"f","t":25.5,"v":-0.285},{"k":"f","t":26.5,"v":-0.27},{"k":"f","t":27.5,"v":-0.262},{"k":"f","t":28.5,"v":-0.25},{"k":"f","t":29.5,"v":-0.242},{"k":"f","t":30.5,"v":-0.232},{"k":"f","t":31.5,"v":-0.225},{"k":"f","t":33,"v":-0.2},{"k":"f","t":34.5,"v":-0.175},{"k":"f","t":36,"v":-0.155},{"k":"f","t":37.5,"v":-0.145},{"k":"f","t":39,"v":-0.13},{"k":"f","t":40.5,"v":-0.125},{"k":"f","t":42,"v":-0.12},{"k":"f","t":43.5,"v":-0.128},{"k":"f","t":45,"v":-0.134},{"k":"f","t":46.5,"v":-0.126},{"k":"f","t":48,"v":-0.13},{"k":"f","t":49.5,"v":-0.118},{"k":"f","t":51,"v":-0.114},{"k":"f","t":53,"v":-0.1},{"k":"f","t":55,"v":-0.085},{"k":"f","t":57,"v":-0.07},{"k":"f","t":59,"v":-0.062},{"k":"f","t":61,"v":-0.056},{"k":"f","t":63,"v":-0.05},{"k":"f","t":65,"v":-0.044},{"k":"f","t":67,"v":-0.038},{"k":"f","t":69,"v":-0.032},{"k":"f","t":71,"v":-0.024},{"k":"f","t":73,"v":-0.02},{"k":"f","t":75,"v":-0.022},{"k":"f","t":78,"v":-0.026},{"k":"f","t":81,"v":-0.03},{"k":"f","t":84,"v":-0.024},{"k":"f","t":87,"v":-0.018},{"k":"f","t":90,"v":-0.012},{"k":"f","t":94,"v":-0.006},{"k":"f","t":98,"v":0.001},{"k":"f","t":103,"v":-0.004},{"k":"f","t":108,"v":0.002},{"k":"f","t":114,"v":-0.003},{"k":"f","t":120,"v":0.002},{"k":"f","t":127,"v":-0.004},{"k":"f","t":134,"v":0.001},{"k":"f","t":141,"v":-0.003},{"k":"f","t":149,"v":0.002},{"k":"f","t":157,"v":-0.004},{"k":"f","t":165,"v":0.0},{"k":"f","t":173,"v":-0.003},{"k":"f","t":181,"v":0.001},{"k":"f","t":189,"v":-0.004},{"k":"f","t":197,"v":0.0},{"k":"f","t":205,"v":-0.003},{"k":"f","t":213,"v":0.001},{"k":"f","t":220,"v":-0.002}
],
"D":[
{"k":"ws","t":-21,"v":-0.008},{"k":"ws","t":-17,"v":0.002},{"k":"ws","t":-13,"v":-0.01},{"k":"ws","t":-9,"v":0.0},{"k":"ws","t":-5,"v":-0.007},{"k":"ws","t":-1,"v":0.001},{"k":"ws","t":0,"v":-0.003},{"k":"ws","t":0.6,"v":-1.0},{"k":"ws","t":2,"v":-0.955},{"k":"ws","t":4,"v":-0.915},{"k":"ws","t":6,"v":-0.885},{"k":"ws","t":8,"v":-0.84},{"k":"ws","t":10,"v":-0.805},{"k":"ws","t":12,"v":-0.78},{"k":"ws","t":14,"v":-0.74},{"k":"ws","t":16,"v":-0.72},{"k":"ws","t":18,"v":-0.68},{"k":"ws","t":20,"v":-0.655},{"k":"ws","t":22,"v":-0.628},{"k":"ws","t":24,"v":-0.6},{"k":"ws","t":26,"v":-0.575},{"k":"ws","t":28,"v":-0.545},{"k":"ws","t":30,"v":-0.525},{"k":"ws","t":32,"v":-0.5},{"k":"ws","t":34,"v":-0.478},{"k":"ws","t":36,"v":-0.47},{"k":"ws","t":38,"v":-0.452},{"k":"ws","t":40,"v":-0.445},{"k":"ws","t":43,"v":-0.432},{"k":"ws","t":46,"v":-0.42},{"k":"ws","t":49,"v":-0.41},{"k":"ws","t":52,"v":-0.392},{"k":"ws","t":55,"v":-0.382},{"k":"ws","t":58,"v":-0.37},{"k":"ws","t":61,"v":-0.355},{"k":"ws","t":64,"v":-0.342},{"k":"ws","t":67,"v":-0.328},{"k":"ws","t":70,"v":-0.32},{"k":"ws","t":73,"v":-0.302},{"k":"ws","t":76,"v":-0.296},{"k":"ws","t":79,"v":-0.285},{"k":"ws","t":82,"v":-0.278},{"k":"ws","t":85,"v":-0.268},{"k":"ws","t":88,"v":-0.264},{"k":"ws","t":91,"v":-0.255},{"k":"ws","t":94,"v":-0.245},{"k":"ws","t":97,"v":-0.232},{"k":"ws","t":100,"v":-0.225},{"k":"ws","t":104,"v":-0.208},{"k":"ws","t":108,"v":-0.2},{"k":"ws","t":112,"v":-0.186},{"k":"ws","t":116,"v":-0.176},{"k":"ws","t":120,"v":-0.165},{"k":"ws","t":124,"v":-0.16},{"k":"ws","t":128,"v":-0.152},{"k":"ws","t":132,"v":-0.154},{"k":"ws","t":136,"v":-0.146},{"k":"ws","t":140,"v":-0.148},{"k":"ws","t":145,"v":-0.136},{"k":"ws","t":150,"v":-0.128},{"k":"ws","t":155,"v":-0.12},{"k":"ws","t":160,"v":-0.112},{"k":"ws","t":165,"v":-0.102},{"k":"ws","t":170,"v":-0.1},{"k":"ws","t":175,"v":-0.094},{"k":"ws","t":180,"v":-0.096},{"k":"ws","t":185,"v":-0.088},{"k":"ws","t":190,"v":-0.09},{"k":"ws","t":195,"v":-0.088},{"k":"ws","t":200,"v":-0.095},{"k":"ws","t":205,"v":-0.1},{"k":"ws","t":210,"v":-0.104},{"k":"ws","t":215,"v":-0.102},{"k":"ws","t":220,"v":-0.109},
{"k":"f","t":-21,"v":-0.004},{"k":"f","t":-17,"v":0.002},{"k":"f","t":-12,"v":-0.006},{"k":"f","t":-7,"v":0.001},{"k":"f","t":-3,"v":-0.004},{"k":"f","t":0,"v":0.0},{"k":"f","t":0.6,"v":-1.0},{"k":"f","t":1.5,"v":-0.87},{"k":"f","t":2.5,"v":-0.82},{"k":"f","t":3.5,"v":-0.78},{"k":"f","t":4.5,"v":-0.74},{"k":"f","t":5.5,"v":-0.715},{"k":"f","t":6.5,"v":-0.69},{"k":"f","t":7.5,"v":-0.67},{"k":"f","t":8.5,"v":-0.65},{"k":"f","t":9.5,"v":-0.625},{"k":"f","t":10.5,"v":-0.605},{"k":"f","t":11.5,"v":-0.59},{"k":"f","t":12.5,"v":-0.57},{"k":"f","t":13.5,"v":-0.555},{"k":"f","t":14.5,"v":-0.525},{"k":"f","t":15.5,"v":-0.49},{"k":"f","t":16.5,"v":-0.46},{"k":"f","t":17.5,"v":-0.44},{"k":"f","t":18.5,"v":-0.4},{"k":"f","t":19.5,"v":-0.37},{"k":"f","t":20.5,"v":-0.36},{"k":"f","t":21.5,"v":-0.335},{"k":"f","t":22.5,"v":-0.32},{"k":"f","t":23.5,"v":-0.3},{"k":"f","t":24.5,"v":-0.29},{"k":"f","t":25.5,"v":-0.275},{"k":"f","t":26.5,"v":-0.262},{"k":"f","t":27.5,"v":-0.25},{"k":"f","t":28.5,"v":-0.24},{"k":"f","t":29.5,"v":-0.228},{"k":"f","t":30.5,"v":-0.22},{"k":"f","t":31.5,"v":-0.21},{"k":"f","t":32.5,"v":-0.198},{"k":"f","t":33.5,"v":-0.19},{"k":"f","t":34.5,"v":-0.18},{"k":"f","t":35.5,"v":-0.17},{"k":"f","t":36.5,"v":-0.15},{"k":"f","t":37.5,"v":-0.13},{"k":"f","t":38.5,"v":-0.11},{"k":"f","t":39.5,"v":-0.095},{"k":"f","t":41,"v":-0.1},{"k":"f","t":42.5,"v":-0.112},{"k":"f","t":44,"v":-0.118},{"k":"f","t":45.5,"v":-0.115},{"k":"f","t":47,"v":-0.125},{"k":"f","t":48.5,"v":-0.13},{"k":"f","t":50,"v":-0.132},{"k":"f","t":51.5,"v":-0.125},{"k":"f","t":53,"v":-0.1},{"k":"f","t":54.5,"v":-0.082},{"k":"f","t":56,"v":-0.07},{"k":"f","t":58,"v":-0.062},{"k":"f","t":60,"v":-0.054},{"k":"f","t":62,"v":-0.048},{"k":"f","t":64,"v":-0.042},{"k":"f","t":66,"v":-0.036},{"k":"f","t":68,"v":-0.03},{"k":"f","t":70,"v":-0.026},{"k":"f","t":73,"v":-0.022},{"k":"f","t":76,"v":-0.02},{"k":"f","t":79,"v":-0.022},{"k":"f","t":82,"v":-0.026},{"k":"f","t":85,"v":-0.03},{"k":"f","t":88,"v":-0.024},{"k":"f","t":91,"v":-0.016},{"k":"f","t":94,"v":-0.01},{"k":"f","t":98,"v":-0.005},{"k":"f","t":103,"v":-0.002},{"k":"f","t":108,"v":-0.006},{"k":"f","t":114,"v":0.0},{"k":"f","t":120,"v":-0.004},{"k":"f","t":127,"v":0.001},{"k":"f","t":134,"v":-0.004},{"k":"f","t":141,"v":0.0},{"k":"f","t":149,"v":-0.005},{"k":"f","t":157,"v":0.0},{"k":"f","t":165,"v":-0.004},{"k":"f","t":173,"v":0.001},{"k":"f","t":181,"v":-0.005},{"k":"f","t":189,"v":0.0},{"k":"f","t":197,"v":-0.004},{"k":"f","t":205,"v":0.001},{"k":"f","t":212,"v":-0.004},{"k":"f","t":220,"v":-0.001},
{"k":"b","t":-21,"v":-0.006},{"k":"b","t":-10,"v":0.0},{"k":"b","t":-2,"v":-0.008},{"k":"b","t":0,"v":-0.002},{"k":"b","t":0.6,"v":-1.0},{"k":"b","t":2,"v":-0.85},{"k":"b","t":4,"v":-0.77},{"k":"b","t":6,"v":-0.715},{"k":"b","t":8,"v":-0.67},{"k":"b","t":10,"v":-0.63},{"k":"b","t":12,"v":-0.595},{"k":"b","t":14,"v":-0.555},{"k":"b","t":16,"v":-0.49},{"k":"b","t":18,"v":-0.43},{"k":"b","t":20,"v":-0.39},{"k":"b","t":22,"v":-0.35},{"k":"b","t":24,"v":-0.315},{"k":"b","t":26,"v":-0.285},{"k":"b","t":28,"v":-0.258},{"k":"b","t":30,"v":-0.235},{"k":"b","t":32,"v":-0.212},{"k":"b","t":34,"v":-0.19},{"k":"b","t":36,"v":-0.168},{"k":"b","t":38,"v":-0.145},{"k":"b","t":40,"v":-0.125},{"k":"b","t":43,"v":-0.108},{"k":"b","t":46,"v":-0.096},{"k":"b","t":50,"v":-0.082},{"k":"b","t":54,"v":-0.068},{"k":"b","t":60,"v":-0.054},{"k":"b","t":66,"v":-0.044},{"k":"b","t":72,"v":-0.036},{"k":"b","t":80,"v":-0.029},{"k":"b","t":90,"v":-0.022},{"k":"b","t":100,"v":-0.018},{"k":"b","t":115,"v":-0.014},{"k":"b","t":135,"v":-0.012},{"k":"b","t":160,"v":-0.012},{"k":"b","t":185,"v":-0.014},{"k":"b","t":200,"v":-0.016},{"k":"b","t":210,"v":-0.02},{"k":"b","t":220,"v":-0.02},
{"k":"g","t":-21,"v":-0.008},{"k":"g","t":-10,"v":-0.002},{"k":"g","t":-2,"v":-0.01},{"k":"g","t":0,"v":-0.004},{"k":"g","t":0.6,"v":-1.0},{"k":"g","t":1.5,"v":-0.83},{"k":"g","t":2.5,"v":-0.68},{"k":"g","t":3.5,"v":-0.57},{"k":"g","t":4.5,"v":-0.48},{"k":"g","t":6,"v":-0.39},{"k":"g","t":7.5,"v":-0.32},{"k":"g","t":9,"v":-0.27},{"k":"g","t":11,"v":-0.225},{"k":"g","t":13,"v":-0.19},{"k":"g","t":15,"v":-0.165},{"k":"g","t":17.5,"v":-0.14},{"k":"g","t":20,"v":-0.118},{"k":"g","t":23,"v":-0.096},{"k":"g","t":26,"v":-0.078},{"k":"g","t":30,"v":-0.058},{"k":"g","t":34,"v":-0.042},{"k":"g","t":38,"v":-0.034},{"k":"g","t":43,"v":-0.03},{"k":"g","t":50,"v":-0.028},{"k":"g","t":60,"v":-0.026},{"k":"g","t":75,"v":-0.022},{"k":"g","t":95,"v":-0.016},{"k":"g","t":120,"v":-0.012},{"k":"g","t":150,"v":-0.009},{"k":"g","t":180,"v":-0.007},{"k":"g","t":220,"v":-0.006}
],
"E":[
{"k":"l","t":-21,"v":-0.01},{"k":"l","t":-18,"v":-0.02},{"k":"l","t":-15,"v":-0.005},{"k":"l","t":-12,"v":-0.015},{"k":"l","t":-9,"v":-0.01},{"k":"l","t":-8,"v":-0.1},{"k":"l","t":-7,"v":-0.012},{"k":"l","t":-5,"v":-0.02},{"k":"l","t":-4,"v":-0.09},{"k":"l","t":-3,"v":-0.01},{"k":"l","t":-1,"v":-0.015},{"k":"l","t":0,"v":-0.01},{"k":"l","t":0.6,"v":-1.0},{"k":"l","t":2,"v":-1.05},{"k":"l","t":3,"v":-0.97},{"k":"l","t":4,"v":-1.08},{"k":"l","t":5,"v":-0.99},{"k":"l","t":6,"v":-1.12},{"k":"l","t":7,"v":-1.02},{"k":"l","t":8,"v":-0.96},{"k":"l","t":9,"v":-1.1},{"k":"l","t":10,"v":-1.0},{"k":"l","t":11,"v":-1.15},{"k":"l","t":12,"v":-1.04},{"k":"l","t":13,"v":-0.98},{"k":"l","t":14,"v":-1.08},{"k":"l","t":15,"v":-1.0},{"k":"l","t":16,"v":-1.12},{"k":"l","t":17,"v":-1.03},{"k":"l","t":18,"v":-0.95},{"k":"l","t":19,"v":-1.06},{"k":"l","t":20,"v":-1.0},{"k":"l","t":21,"v":-1.14},{"k":"l","t":22,"v":-1.05},{"k":"l","t":23,"v":-1.1},{"k":"l","t":24,"v":-1.02},{"k":"l","t":25,"v":-1.12},{"k":"l","t":25.5,"v":-1.41},{"k":"l","t":26,"v":-1.08},{"k":"l","t":27,"v":-1.0},{"k":"l","t":28,"v":-1.1},{"k":"l","t":29,"v":-0.98},{"k":"l","t":30,"v":-1.06},{"k":"l","t":31,"v":-0.97},{"k":"l","t":32,"v":-1.12},{"k":"l","t":33,"v":-1.02},{"k":"l","t":34,"v":-0.96},{"k":"l","t":35,"v":-1.08},{"k":"l","t":36,"v":-1.0},{"k":"l","t":37,"v":-1.14},{"k":"l","t":38,"v":-1.04},{"k":"l","t":39,"v":-1.1},{"k":"l","t":40,"v":-1.0},{"k":"l","t":41,"v":-1.18},{"k":"l","t":42,"v":-1.05},{"k":"l","t":43,"v":-1.1},{"k":"l","t":44,"v":-1.02},{"k":"l","t":45,"v":-1.15},{"k":"l","t":46,"v":-1.06},{"k":"l","t":47,"v":-1.12},{"k":"l","t":48,"v":-1.0},{"k":"l","t":49,"v":-1.1},{"k":"l","t":50,"v":-1.03},{"k":"l","t":51,"v":-1.16},{"k":"l","t":52,"v":-1.08},{"k":"l","t":53,"v":-1.2},{"k":"l","t":54,"v":-1.1},{"k":"l","t":55,"v":-1.15},{"k":"l","t":56,"v":-1.05},{"k":"l","t":57,"v":-1.25},{"k":"l","t":58,"v":-1.12},{"k":"l","t":59,"v":-1.08},{"k":"l","t":60,"v":-1.18},{"k":"l","t":61,"v":-1.06},{"k":"l","t":62,"v":-1.1},{"k":"l","t":63,"v":-1.02},{"k":"l","t":64,"v":-1.12},{"k":"l","t":65,"v":-1.0},{"k":"l","t":66,"v":-1.08},{"k":"l","t":67,"v":-0.98},{"k":"l","t":68,"v":-1.05},{"k":"l","t":69,"v":-0.96},{"k":"l","t":70,"v":-1.04},{"k":"l","t":71,"v":-0.94},{"k":"l","t":72,"v":-1.02},{"k":"l","t":73,"v":-0.95},{"k":"l","t":74,"v":-1.06},{"k":"l","t":75,"v":-0.97},{"k":"l","t":76,"v":-1.0},{"k":"l","t":77,"v":-0.92},{"k":"l","t":78,"v":-1.02},{"k":"l","t":79,"v":-0.95},{"k":"l","t":80,"v":-0.99},{"k":"l","t":81,"v":-0.92},{"k":"l","t":82,"v":-1.04},{"k":"l","t":83,"v":-0.96},{"k":"l","t":84,"v":-0.9},{"k":"l","t":85,"v":-1.0},{"k":"l","t":86,"v":-0.93},{"k":"l","t":87,"v":-0.98},{"k":"l","t":88,"v":-0.9},{"k":"l","t":89,"v":-0.97},{"k":"l","t":90,"v":-0.92},{"k":"l","t":91,"v":-1.02},{"k":"l","t":92,"v":-0.94},{"k":"l","t":93,"v":-0.9},{"k":"l","t":94,"v":-0.96},{"k":"l","t":95,"v":-0.88},{"k":"l","t":96,"v":-0.98},{"k":"l","t":97,"v":-0.92},{"k":"l","t":98,"v":-1.0},{"k":"l","t":99,"v":-0.94},{"k":"l","t":100,"v":-1.02},{"k":"l","t":101,"v":-0.96},{"k":"l","t":102,"v":-1.05},{"k":"l","t":103,"v":-0.98},{"k":"l","t":104,"v":-1.02},{"k":"l","t":105,"v":-0.95},{"k":"l","t":106,"v":-1.0},{"k":"l","t":107,"v":-0.92},{"k":"l","t":108,"v":-0.98},{"k":"l","t":109,"v":-0.9},{"k":"l","t":110,"v":-0.96},{"k":"l","t":111,"v":-0.88},{"k":"l","t":112,"v":-0.94},{"k":"l","t":113,"v":-0.9},{"k":"l","t":114,"v":-0.97},{"k":"l","t":115,"v":-0.9},{"k":"l","t":116,"v":-0.95},{"k":"l","t":117,"v":-0.88},{"k":"l","t":118,"v":-0.96},{"k":"l","t":119,"v":-0.9},{"k":"l","t":120,"v":-0.98},{"k":"l","t":121,"v":-0.92},{"k":"l","t":122,"v":-0.97},{"k":"l","t":123,"v":-0.9},{"k":"l","t":124,"v":-0.96},{"k":"l","t":125,"v":-0.92},{"k":"l","t":126,"v":-1.0},{"k":"l","t":127,"v":-0.94},{"k":"l","t":128,"v":-1.04},{"k":"l","t":129,"v":-0.98},{"k":"l","t":130,"v":-1.02},{"k":"l","t":131,"v":-0.96},{"k":"l","t":132,"v":-1.06},{"k":"l","t":133,"v":-1.0},{"k":"l","t":134,"v":-1.08},{"k":"l","t":135,"v":-1.02},{"k":"l","t":136,"v":-1.1},{"k":"l","t":137,"v":-1.04},{"k":"l","t":138,"v":-1.12},{"k":"l","t":139,"v":-1.06},{"k":"l","t":140,"v":-1.14},{"k":"l","t":141,"v":-1.08},{"k":"l","t":142,"v":-1.16},{"k":"l","t":143,"v":-1.1},{"k":"l","t":144,"v":-1.06},{"k":"l","t":145,"v":-1.14},{"k":"l","t":146,"v":-1.08},{"k":"l","t":147,"v":-1.18},{"k":"l","t":148,"v":-1.1},{"k":"l","t":149,"v":-1.06},{"k":"l","t":150,"v":-1.15},{"k":"l","t":151,"v":-1.08},{"k":"l","t":152,"v":-1.12},{"k":"l","t":153,"v":-1.04},{"k":"l","t":154,"v":-1.14},{"k":"l","t":155,"v":-1.06},{"k":"l","t":156,"v":-1.2},{"k":"l","t":157,"v":-1.1},{"k":"l","t":158,"v":-1.04},{"k":"l","t":159,"v":-1.32},{"k":"l","t":160,"v":-1.1},{"k":"l","t":161,"v":-1.02},{"k":"l","t":162,"v":-1.08},{"k":"l","t":163,"v":-0.98},{"k":"l","t":164,"v":-1.04},{"k":"l","t":165,"v":-0.96},{"k":"l","t":166,"v":-1.02},{"k":"l","t":167,"v":-0.97},{"k":"l","t":168,"v":-1.0},{"k":"l","t":169,"v":-0.95},{"k":"l","t":170,"v":-1.06},{"k":"l","t":171,"v":-1.0},{"k":"l","t":172,"v":-1.1},{"k":"l","t":173,"v":-0.98},{"k":"l","t":174,"v":-1.02},{"k":"l","t":175,"v":-0.94},{"k":"l","t":176,"v":-1.0},{"k":"l","t":177,"v":-0.92},{"k":"l","t":178,"v":-0.98},{"k":"l","t":179,"v":-0.9},{"k":"l","t":180,"v":-0.96},{"k":"l","t":181,"v":-0.88},{"k":"l","t":182,"v":-0.94},{"k":"l","t":183,"v":-0.9},{"k":"l","t":184,"v":-0.98},{"k":"l","t":185,"v":-1.1},{"k":"l","t":186,"v":-0.96},{"k":"l","t":187,"v":-0.9},{"k":"l","t":188,"v":-0.95},{"k":"l","t":189,"v":-0.86},{"k":"l","t":190,"v":-0.92},{"k":"l","t":191,"v":-0.85},{"k":"l","t":192,"v":-0.9},{"k":"l","t":193,"v":-0.82},{"k":"l","t":194,"v":-0.88},{"k":"l","t":195,"v":-0.8},{"k":"l","t":196,"v":-0.86},{"k":"l","t":197,"v":-0.78},{"k":"l","t":198,"v":-0.84},{"k":"l","t":199,"v":-0.76},{"k":"l","t":200,"v":-0.82},{"k":"l","t":201,"v":-0.78},{"k":"l","t":202,"v":-0.84},{"k":"l","t":203,"v":-0.76},{"k":"l","t":204,"v":-0.8},{"k":"l","t":205,"v":-0.72},{"k":"l","t":206,"v":-0.78},{"k":"l","t":207,"v":-0.68},{"k":"l","t":208,"v":-0.74},{"k":"l","t":209,"v":-0.8},{"k":"l","t":210,"v":-0.76},{"k":"l","t":211,"v":-0.86},{"k":"l","t":212,"v":-0.78},{"k":"l","t":213,"v":-0.9},{"k":"l","t":214,"v":-0.82},{"k":"l","t":215,"v":-0.94},{"k":"l","t":216,"v":-0.84},{"k":"l","t":217,"v":-0.8},{"k":"l","t":218,"v":-0.9},{"k":"l","t":219,"v":-0.84},{"k":"l","t":220,"v":-0.82},
{"k":"o","t":-21,"v":-0.006},{"k":"o","t":-14,"v":0.0},{"k":"o","t":-7,"v":-0.008},{"k":"o","t":0,"v":-0.004},{"k":"o","t":0.6,"v":-1.0},{"k":"o","t":2,"v":-1.02},{"k":"o","t":4,"v":-0.98},{"k":"o","t":6,"v":-1.0},{"k":"o","t":8,"v":-0.96},{"k":"o","t":10,"v":-0.985},{"k":"o","t":12,"v":-0.95},{"k":"o","t":14,"v":-0.965},{"k":"o","t":16,"v":-0.935},{"k":"o","t":18,"v":-0.955},{"k":"o","t":20,"v":-0.93},{"k":"o","t":22,"v":-0.945},{"k":"o","t":24,"v":-0.915},{"k":"o","t":26,"v":-0.935},{"k":"o","t":28,"v":-0.91},{"k":"o","t":30,"v":-0.93},{"k":"o","t":32,"v":-0.9},{"k":"o","t":34,"v":-0.925},{"k":"o","t":36,"v":-0.905},{"k":"o","t":38,"v":-0.915},{"k":"o","t":40,"v":-0.885},{"k":"o","t":42,"v":-0.905},{"k":"o","t":44,"v":-0.88},{"k":"o","t":46,"v":-0.9},{"k":"o","t":48,"v":-0.87},{"k":"o","t":50,"v":-0.885},{"k":"o","t":52,"v":-0.86},{"k":"o","t":54,"v":-0.875},{"k":"o","t":56,"v":-0.855},{"k":"o","t":58,"v":-0.87},{"k":"o","t":60,"v":-0.85},{"k":"o","t":62,"v":-0.865},{"k":"o","t":64,"v":-0.845},{"k":"o","t":66,"v":-0.86},{"k":"o","t":68,"v":-0.83},{"k":"o","t":70,"v":-0.85},{"k":"o","t":72,"v":-0.82},{"k":"o","t":74,"v":-0.835},{"k":"o","t":76,"v":-0.81},{"k":"o","t":78,"v":-0.83},{"k":"o","t":80,"v":-0.805},{"k":"o","t":82,"v":-0.82},{"k":"o","t":84,"v":-0.8},{"k":"o","t":86,"v":-0.815},{"k":"o","t":88,"v":-0.79},{"k":"o","t":90,"v":-0.78},{"k":"o","t":92,"v":-0.75},{"k":"o","t":94,"v":-0.745},{"k":"o","t":96,"v":-0.77},{"k":"o","t":98,"v":-0.78},{"k":"o","t":100,"v":-0.79},{"k":"o","t":102,"v":-0.775},{"k":"o","t":104,"v":-0.795},{"k":"o","t":106,"v":-0.78},{"k":"o","t":108,"v":-0.79},{"k":"o","t":110,"v":-0.77},{"k":"o","t":112,"v":-0.785},{"k":"o","t":114,"v":-0.765},{"k":"o","t":116,"v":-0.78},{"k":"o","t":118,"v":-0.76},{"k":"o","t":120,"v":-0.775},{"k":"o","t":122,"v":-0.755},{"k":"o","t":124,"v":-0.77},{"k":"o","t":126,"v":-0.74},{"k":"o","t":128,"v":-0.755},{"k":"o","t":130,"v":-0.73},{"k":"o","t":132,"v":-0.74},{"k":"o","t":134,"v":-0.71},{"k":"o","t":136,"v":-0.7},{"k":"o","t":138,"v":-0.675},{"k":"o","t":139.5,"v":-0.66},{"k":"o","t":141,"v":-0.69},{"k":"o","t":143,"v":-0.7},{"k":"o","t":145,"v":-0.72},{"k":"o","t":147,"v":-0.715},{"k":"o","t":149,"v":-0.735},{"k":"o","t":151,"v":-0.73},{"k":"o","t":153,"v":-0.745},{"k":"o","t":155,"v":-0.735},{"k":"o","t":157,"v":-0.75},{"k":"o","t":159,"v":-0.74},{"k":"o","t":161,"v":-0.755},{"k":"o","t":163,"v":-0.745},{"k":"o","t":165,"v":-0.76},{"k":"o","t":167,"v":-0.75},{"k":"o","t":169,"v":-0.765},{"k":"o","t":171,"v":-0.745},{"k":"o","t":173,"v":-0.755},{"k":"o","t":175,"v":-0.735},{"k":"o","t":177,"v":-0.745},{"k":"o","t":179,"v":-0.73},{"k":"o","t":181,"v":-0.755},{"k":"o","t":183,"v":-0.765},{"k":"o","t":185,"v":-0.775},{"k":"o","t":187,"v":-0.765},{"k":"o","t":189,"v":-0.78},{"k":"o","t":191,"v":-0.775},{"k":"o","t":193,"v":-0.785},{"k":"o","t":195,"v":-0.765},{"k":"o","t":197,"v":-0.775},{"k":"o","t":199,"v":-0.75},{"k":"o","t":201,"v":-0.76},{"k":"o","t":203,"v":-0.74},{"k":"o","t":205,"v":-0.745},{"k":"o","t":207,"v":-0.725},{"k":"o","t":209,"v":-0.735},{"k":"o","t":211,"v":-0.72},{"k":"o","t":213,"v":-0.74},{"k":"o","t":215,"v":-0.745},{"k":"o","t":217,"v":-0.76},{"k":"o","t":219,"v":-0.75},{"k":"o","t":220,"v":-0.765},
{"k":"ws","t":-21,"v":-0.004},{"k":"ws","t":-16,"v":0.004},{"k":"ws","t":-11,"v":-0.006},{"k":"ws","t":-6,"v":0.002},{"k":"ws","t":-1,"v":-0.004},{"k":"ws","t":0,"v":0.0},{"k":"ws","t":0.6,"v":-1.0},{"k":"ws","t":2,"v":-0.92},{"k":"ws","t":4,"v":-0.85},{"k":"ws","t":6,"v":-0.8},{"k":"ws","t":8,"v":-0.775},{"k":"ws","t":10,"v":-0.745},{"k":"ws","t":12,"v":-0.73},{"k":"ws","t":14,"v":-0.705},{"k":"ws","t":16,"v":-0.69},{"k":"ws","t":18,"v":-0.665},{"k":"ws","t":20,"v":-0.645},{"k":"ws","t":22,"v":-0.625},{"k":"ws","t":24,"v":-0.61},{"k":"ws","t":26,"v":-0.59},{"k":"ws","t":28,"v":-0.545},{"k":"ws","t":30,"v":-0.505},{"k":"ws","t":32,"v":-0.48},{"k":"ws","t":34,"v":-0.46},{"k":"ws","t":36,"v":-0.445},{"k":"ws","t":38,"v":-0.438},{"k":"ws","t":40,"v":-0.425},{"k":"ws","t":43,"v":-0.41},{"k":"ws","t":46,"v":-0.402},{"k":"ws","t":49,"v":-0.395},{"k":"ws","t":52,"v":-0.388},{"k":"ws","t":55,"v":-0.38},{"k":"ws","t":58,"v":-0.37},{"k":"ws","t":61,"v":-0.355},{"k":"ws","t":64,"v":-0.342},{"k":"ws","t":67,"v":-0.33},{"k":"ws","t":70,"v":-0.318},{"k":"ws","t":73,"v":-0.302},{"k":"ws","t":76,"v":-0.292},{"k":"ws","t":79,"v":-0.28},{"k":"ws","t":82,"v":-0.268},{"k":"ws","t":85,"v":-0.258},{"k":"ws","t":88,"v":-0.252},{"k":"ws","t":91,"v":-0.245},{"k":"ws","t":94,"v":-0.238},{"k":"ws","t":97,"v":-0.228},{"k":"ws","t":100,"v":-0.215},{"k":"ws","t":104,"v":-0.2},{"k":"ws","t":108,"v":-0.188},{"k":"ws","t":112,"v":-0.175},{"k":"ws","t":116,"v":-0.17},{"k":"ws","t":120,"v":-0.165},{"k":"ws","t":125,"v":-0.162},{"k":"ws","t":130,"v":-0.158},{"k":"ws","t":135,"v":-0.155},{"k":"ws","t":140,"v":-0.15},{"k":"ws","t":145,"v":-0.145},{"k":"ws","t":150,"v":-0.138},{"k":"ws","t":155,"v":-0.13},{"k":"ws","t":160,"v":-0.118},{"k":"ws","t":165,"v":-0.106},{"k":"ws","t":170,"v":-0.1},{"k":"ws","t":175,"v":-0.098},{"k":"ws","t":180,"v":-0.094},{"k":"ws","t":185,"v":-0.092},{"k":"ws","t":190,"v":-0.088},{"k":"ws","t":195,"v":-0.084},{"k":"ws","t":200,"v":-0.088},{"k":"ws","t":205,"v":-0.092},{"k":"ws","t":210,"v":-0.095},{"k":"ws","t":215,"v":-0.1},{"k":"ws","t":220,"v":-0.104},
{"k":"c","t":-21,"v":-0.02},{"k":"c","t":-17,"v":-0.008},{"k":"c","t":-13,"v":-0.026},{"k":"c","t":-9,"v":-0.01},{"k":"c","t":-5,"v":-0.022},{"k":"c","t":-1,"v":-0.01},{"k":"c","t":0,"v":-0.015},{"k":"c","t":0.6,"v":-1.0},{"k":"c","t":1.5,"v":-0.88},{"k":"c","t":2.5,"v":-0.81},{"k":"c","t":4,"v":-0.73},{"k":"c","t":5.5,"v":-0.675},{"k":"c","t":7,"v":-0.63},{"k":"c","t":8.5,"v":-0.59},{"k":"c","t":10,"v":-0.56},{"k":"c","t":11.5,"v":-0.53},{"k":"c","t":13,"v":-0.5},{"k":"c","t":14.5,"v":-0.475},{"k":"c","t":16,"v":-0.455},{"k":"c","t":17.5,"v":-0.44},{"k":"c","t":19,"v":-0.43},{"k":"c","t":20.5,"v":-0.41},{"k":"c","t":22,"v":-0.405},{"k":"c","t":23.5,"v":-0.395},{"k":"c","t":25,"v":-0.385},{"k":"c","t":26.5,"v":-0.37},{"k":"c","t":28,"v":-0.35},{"k":"c","t":29.5,"v":-0.34},{"k":"c","t":31,"v":-0.338},{"k":"c","t":33,"v":-0.33},{"k":"c","t":35,"v":-0.325},{"k":"c","t":37,"v":-0.32},{"k":"c","t":39,"v":-0.305},{"k":"c","t":41,"v":-0.298},{"k":"c","t":43,"v":-0.285},{"k":"c","t":45,"v":-0.285},{"k":"c","t":48,"v":-0.272},{"k":"c","t":51,"v":-0.27},{"k":"c","t":54,"v":-0.262},{"k":"c","t":57,"v":-0.258},{"k":"c","t":60,"v":-0.25},{"k":"c","t":63,"v":-0.245},{"k":"c","t":66,"v":-0.232},{"k":"c","t":69,"v":-0.222},{"k":"c","t":72,"v":-0.208},{"k":"c","t":75,"v":-0.2},{"k":"c","t":78,"v":-0.19},{"k":"c","t":81,"v":-0.182},{"k":"c","t":84,"v":-0.17},{"k":"c","t":87,"v":-0.158},{"k":"c","t":90,"v":-0.145},{"k":"c","t":93,"v":-0.135},{"k":"c","t":96,"v":-0.122},{"k":"c","t":99,"v":-0.115},{"k":"c","t":102,"v":-0.104},{"k":"c","t":105,"v":-0.092},{"k":"c","t":108,"v":-0.08},{"k":"c","t":111,"v":-0.068},{"k":"c","t":114,"v":-0.06},{"k":"c","t":117,"v":-0.052},{"k":"c","t":120,"v":-0.046},{"k":"c","t":124,"v":-0.042},{"k":"c","t":128,"v":-0.038},{"k":"c","t":133,"v":-0.035},{"k":"c","t":138,"v":-0.034},{"k":"c","t":144,"v":-0.036},{"k":"c","t":150,"v":-0.033},{"k":"c","t":156,"v":-0.035},{"k":"c","t":162,"v":-0.032},{"k":"c","t":168,"v":-0.028},{"k":"c","t":174,"v":-0.025},{"k":"c","t":180,"v":-0.022},{"k":"c","t":186,"v":-0.02},{"k":"c","t":192,"v":-0.021},{"k":"c","t":198,"v":-0.02},{"k":"c","t":204,"v":-0.022},{"k":"c","t":210,"v":-0.019},{"k":"c","t":215,"v":-0.021},{"k":"c","t":220,"v":-0.02},
{"k":"f","t":-21,"v":-0.006},{"k":"f","t":-17,"v":0.0},{"k":"f","t":-12,"v":-0.008},{"k":"f","t":-7,"v":0.0},{"k":"f","t":-3,"v":-0.006},{"k":"f","t":0,"v":-0.002},{"k":"f","t":0.6,"v":-1.0},{"k":"f","t":1.5,"v":-0.9},{"k":"f","t":2.5,"v":-0.82},{"k":"f","t":3.5,"v":-0.78},{"k":"f","t":4.5,"v":-0.74},{"k":"f","t":5.5,"v":-0.7},{"k":"f","t":6.5,"v":-0.665},{"k":"f","t":7.5,"v":-0.64},{"k":"f","t":8.5,"v":-0.615},{"k":"f","t":9.5,"v":-0.59},{"k":"f","t":10.5,"v":-0.56},{"k":"f","t":11.5,"v":-0.535},{"k":"f","t":12.5,"v":-0.51},{"k":"f","t":13.5,"v":-0.46},{"k":"f","t":14.5,"v":-0.42},{"k":"f","t":15.5,"v":-0.385},{"k":"f","t":16.5,"v":-0.38},{"k":"f","t":17.5,"v":-0.372},{"k":"f","t":18.5,"v":-0.355},{"k":"f","t":19.5,"v":-0.31},{"k":"f","t":20.5,"v":-0.285},{"k":"f","t":21.5,"v":-0.265},{"k":"f","t":22.5,"v":-0.258},{"k":"f","t":23.5,"v":-0.25},{"k":"f","t":24.5,"v":-0.255},{"k":"f","t":25.5,"v":-0.245},{"k":"f","t":26.5,"v":-0.24},{"k":"f","t":27.5,"v":-0.222},{"k":"f","t":28.5,"v":-0.21},{"k":"f","t":29.5,"v":-0.2},{"k":"f","t":30.5,"v":-0.195},{"k":"f","t":31.5,"v":-0.185},{"k":"f","t":33,"v":-0.17},{"k":"f","t":34.5,"v":-0.158},{"k":"f","t":36,"v":-0.148},{"k":"f","t":37.5,"v":-0.14},{"k":"f","t":39,"v":-0.132},{"k":"f","t":40.5,"v":-0.126},{"k":"f","t":42,"v":-0.124},{"k":"f","t":43.5,"v":-0.13},{"k":"f","t":45,"v":-0.135},{"k":"f","t":46.5,"v":-0.132},{"k":"f","t":48,"v":-0.14},{"k":"f","t":49.5,"v":-0.145},{"k":"f","t":51,"v":-0.14},{"k":"f","t":52.5,"v":-0.12},{"k":"f","t":54,"v":-0.1},{"k":"f","t":56,"v":-0.085},{"k":"f","t":58,"v":-0.075},{"k":"f","t":60,"v":-0.065},{"k":"f","t":62,"v":-0.058},{"k":"f","t":64,"v":-0.052},{"k":"f","t":67,"v":-0.045},{"k":"f","t":70,"v":-0.038},{"k":"f","t":73,"v":-0.034},{"k":"f","t":76,"v":-0.03},{"k":"f","t":79,"v":-0.026},{"k":"f","t":82,"v":-0.024},{"k":"f","t":85,"v":-0.032},{"k":"f","t":88,"v":-0.044},{"k":"f","t":90,"v":-0.036},{"k":"f","t":92,"v":-0.02},{"k":"f","t":95,"v":-0.01},{"k":"f","t":98,"v":-0.004},{"k":"f","t":102,"v":-0.008},{"k":"f","t":107,"v":-0.002},{"k":"f","t":112,"v":-0.007},{"k":"f","t":118,"v":0.0},{"k":"f","t":124,"v":-0.006},{"k":"f","t":130,"v":-0.001},{"k":"f","t":137,"v":-0.007},{"k":"f","t":144,"v":-0.001},{"k":"f","t":151,"v":-0.006},{"k":"f","t":158,"v":0.0},{"k":"f","t":166,"v":-0.006},{"k":"f","t":174,"v":0.0},{"k":"f","t":182,"v":-0.007},{"k":"f","t":190,"v":-0.001},{"k":"f","t":198,"v":-0.006},{"k":"f","t":206,"v":0.0},{"k":"f","t":213,"v":-0.005},{"k":"f","t":220,"v":-0.002},
{"k":"b","t":-21,"v":-0.01},{"k":"b","t":-10,"v":-0.004},{"k":"b","t":-2,"v":-0.012},{"k":"b","t":0,"v":-0.006},{"k":"b","t":0.6,"v":-1.0},{"k":"b","t":1.5,"v":-0.88},{"k":"b","t":2.5,"v":-0.77},{"k":"b","t":3.5,"v":-0.67},{"k":"b","t":4.5,"v":-0.58},{"k":"b","t":6,"v":-0.47},{"k":"b","t":7.5,"v":-0.38},{"k":"b","t":9,"v":-0.31},{"k":"b","t":11,"v":-0.24},{"k":"b","t":13,"v":-0.185},{"k":"b","t":15,"v":-0.14},{"k":"b","t":17.5,"v":-0.105},{"k":"b","t":20,"v":-0.078},{"k":"b","t":23,"v":-0.058},{"k":"b","t":26,"v":-0.042},{"k":"b","t":30,"v":-0.03},{"k":"b","t":35,"v":-0.022},{"k":"b","t":42,"v":-0.016},{"k":"b","t":50,"v":-0.014},{"k":"b","t":70,"v":-0.014},{"k":"b","t":100,"v":-0.013},{"k":"b","t":130,"v":-0.014},{"k":"b","t":160,"v":-0.013},{"k":"b","t":190,"v":-0.014},{"k":"b","t":220,"v":-0.014}
]
},
"columns":2,
"spacing":{"row":20,"column":34},
"bounds":"flush",
"resolve":{"scale":{"x":"independent","y":"independent"}},
"concat":[
{"title":{"text":"A","anchor":"start","frame":"group","fontSize":34,"fontWeight":"bold","font":"Liberation Sans","color":"#000","dx":-17,"offset":-6},
"width":328,"height":254,
"layer":[
{"data":{"name":"stA"},"mark":{"type":"line","interpolate":"step-after","color":"#000","strokeWidth":2},"encoding":{"x":{"field":"t","type":"quantitative","scale":{"domain":[-21,220],"nice":false,"zero":false}},"y":{"field":"v","type":"quantitative","scale":{"domain":[-1.01,0.11],"nice":false,"zero":false}}}},
{"data":{"values":[{}]},"mark":{"type":"rule","color":"#000","strokeWidth":1,"strokeDash":[3,3]},"encoding":{"x":{"datum":0.5},"x2":{"datum":219},"y":{"datum":0}}},
{"data":{"name":"A"},"mark":{"type":"line","strokeJoin":"round"},"encoding":{"x":{"field":"t","type":"quantitative"},"y":{"field":"v","type":"quantitative"},"color":{"field":"k","type":"nominal","scale":{"domain":["f","ws","b","g","p","r","l","c","o"],"range":["#111111","#ee2a2f","#2f54a6","#1b9448","#d563b3","#9e1c22","#8a8a8a","#22c1d4","#f28a3c"]},"legend":null},"strokeWidth":{"field":"k","type":"nominal","scale":{"domain":["f","ws","b","g","p","r","l","c","o"],"range":[1.7,1.3,1.3,1.3,1.3,1.3,1.2,1.3,1.3]},"legend":null}}},
{"data":{"values":[{}]},"mark":{"type":"rule","color":"#000","strokeWidth":4},"encoding":{"x":{"datum":36.8},"x2":{"datum":86.8},"y":{"datum":-0.78}}},
{"data":{"values":[{}]},"mark":{"type":"text","text":"50 ms","align":"center","baseline":"alphabetic","fontSize":27,"font":"Liberation Sans","color":"#000"},"encoding":{"x":{"datum":61.8},"y":{"datum":-0.903}}},
{"data":{"name":"labA"},"mark":{"type":"text","align":"left","baseline":"alphabetic","fontSize":27,"font":"Liberation Sans"},"encoding":{"x":{"field":"t","type":"quantitative"},"y":{"field":"v","type":"quantitative"},"text":{"field":"label"},"color":{"field":"k","type":"nominal","scale":{"domain":["f","ws","b","g","p","r","l","c","o"],"range":["#111111","#ee2a2f","#2f54a6","#1b9448","#d563b3","#9e1c22","#8a8a8a","#22c1d4","#f28a3c"]},"legend":null}}}
]},
{"title":{"text":"B","anchor":"start","frame":"group","fontSize":34,"fontWeight":"bold","font":"Liberation Sans","color":"#000","dx":-17,"offset":-6},
"width":328,"height":254,
"layer":[
{"data":{"name":"stB"},"mark":{"type":"line","interpolate":"step-after","color":"#000","strokeWidth":2},"encoding":{"x":{"field":"t","type":"quantitative","scale":{"domain":[-21,220],"nice":false,"zero":false}},"y":{"field":"v","type":"quantitative","scale":{"domain":[-1.01,0.11],"nice":false,"zero":false}}}},
{"data":{"values":[{}]},"mark":{"type":"rule","color":"#000","strokeWidth":1,"strokeDash":[3,3]},"encoding":{"x":{"datum":0.5},"x2":{"datum":219},"y":{"datum":0}}},
{"data":{"name":"B"},"mark":{"type":"line","strokeJoin":"round"},"encoding":{"x":{"field":"t","type":"quantitative"},"y":{"field":"v","type":"quantitative"},"color":{"field":"k","type":"nominal","scale":{"domain":["f","ws","b","g","p","r","l","c","o"],"range":["#111111","#ee2a2f","#2f54a6","#1b9448","#d563b3","#9e1c22","#8a8a8a","#22c1d4","#f28a3c"]},"legend":null},"strokeWidth":{"field":"k","type":"nominal","scale":{"domain":["f","ws","b","g","p","r","l","c","o"],"range":[1.7,1.3,1.3,1.3,1.3,1.3,1.2,1.3,1.3]},"legend":null}}},
{"data":{"values":[{}]},"mark":{"type":"rule","color":"#000","strokeWidth":4},"encoding":{"x":{"datum":39},"x2":{"datum":89},"y":{"datum":-0.78}}},
{"data":{"values":[{}]},"mark":{"type":"text","text":"50 ms","align":"center","baseline":"alphabetic","fontSize":27,"font":"Liberation Sans","color":"#000"},"encoding":{"x":{"datum":64},"y":{"datum":-0.903}}},
{"data":{"name":"labB"},"mark":{"type":"text","align":"left","baseline":"alphabetic","fontSize":27,"font":"Liberation Sans"},"encoding":{"x":{"field":"t","type":"quantitative"},"y":{"field":"v","type":"quantitative"},"text":{"field":"label"},"color":{"field":"k","type":"nominal","scale":{"domain":["f","ws","b","g","p","r","l","c","o"],"range":["#111111","#ee2a2f","#2f54a6","#1b9448","#d563b3","#9e1c22","#8a8a8a","#22c1d4","#f28a3c"]},"legend":null}}}
]},
{"title":{"text":"C","anchor":"start","frame":"group","fontSize":34,"fontWeight":"bold","font":"Liberation Sans","color":"#000","dx":-17,"offset":-6},
"width":328,"height":254,
"layer":[
{"data":{"name":"stC"},"mark":{"type":"line","interpolate":"step-after","color":"#000","strokeWidth":2},"encoding":{"x":{"field":"t","type":"quantitative","scale":{"domain":[-21,220],"nice":false,"zero":false}},"y":{"field":"v","type":"quantitative","scale":{"domain":[-1.01,0.11],"nice":false,"zero":false}}}},
{"data":{"values":[{}]},"mark":{"type":"rule","color":"#000","strokeWidth":1,"strokeDash":[3,3]},"encoding":{"x":{"datum":0.5},"x2":{"datum":219},"y":{"datum":0}}},
{"data":{"name":"C"},"mark":{"type":"line","strokeJoin":"round"},"encoding":{"x":{"field":"t","type":"quantitative"},"y":{"field":"v","type":"quantitative"},"color":{"field":"k","type":"nominal","scale":{"domain":["f","ws","b","g","p","r","l","c","o"],"range":["#111111","#ee2a2f","#2f54a6","#1b9448","#d563b3","#9e1c22","#8a8a8a","#22c1d4","#f28a3c"]},"legend":null},"strokeWidth":{"field":"k","type":"nominal","scale":{"domain":["f","ws","b","g","p","r","l","c","o"],"range":[1.7,1.3,1.3,1.3,1.3,1.3,1.2,1.3,1.3]},"legend":null}}},
{"data":{"values":[{}]},"mark":{"type":"rule","color":"#000","strokeWidth":4},"encoding":{"x":{"datum":36.8},"x2":{"datum":86.8},"y":{"datum":-0.785}}},
{"data":{"values":[{}]},"mark":{"type":"text","text":"50 ms","align":"center","baseline":"alphabetic","fontSize":27,"font":"Liberation Sans","color":"#000"},"encoding":{"x":{"datum":61.8},"y":{"datum":-0.904}}},
{"data":{"name":"labC"},"mark":{"type":"text","align":"left","baseline":"alphabetic","fontSize":27,"font":"Liberation Sans"},"encoding":{"x":{"field":"t","type":"quantitative"},"y":{"field":"v","type":"quantitative"},"text":{"field":"label"},"color":{"field":"k","type":"nominal","scale":{"domain":["f","ws","b","g","p","r","l","c","o"],"range":["#111111","#ee2a2f","#2f54a6","#1b9448","#d563b3","#9e1c22","#8a8a8a","#22c1d4","#f28a3c"]},"legend":null}}}
]},
{"title":{"text":"D","anchor":"start","frame":"group","fontSize":34,"fontWeight":"bold","font":"Liberation Sans","color":"#000","dx":-17,"offset":-6},
"width":328,"height":254,
"layer":[
{"data":{"name":"stD"},"mark":{"type":"line","interpolate":"step-after","color":"#000","strokeWidth":2},"encoding":{"x":{"field":"t","type":"quantitative","scale":{"domain":[-21,220],"nice":false,"zero":false}},"y":{"field":"v","type":"quantitative","scale":{"domain":[-1.01,0.11],"nice":false,"zero":false}}}},
{"data":{"values":[{}]},"mark":{"type":"rule","color":"#000","strokeWidth":1,"strokeDash":[3,3]},"encoding":{"x":{"datum":0.5},"x2":{"datum":219},"y":{"datum":0}}},
{"data":{"name":"D"},"mark":{"type":"line","strokeJoin":"round"},"encoding":{"x":{"field":"t","type":"quantitative"},"y":{"field":"v","type":"quantitative"},"color":{"field":"k","type":"nominal","scale":{"domain":["f","ws","b","g","p","r","l","c","o"],"range":["#111111","#ee2a2f","#2f54a6","#1b9448","#d563b3","#9e1c22","#8a8a8a","#22c1d4","#f28a3c"]},"legend":null},"strokeWidth":{"field":"k","type":"nominal","scale":{"domain":["f","ws","b","g","p","r","l","c","o"],"range":[1.7,1.3,1.3,1.3,1.3,1.3,1.2,1.3,1.3]},"legend":null}}},
{"data":{"values":[{}]},"mark":{"type":"rule","color":"#000","strokeWidth":4},"encoding":{"x":{"datum":36},"x2":{"datum":86},"y":{"datum":-0.785}}},
{"data":{"values":[{}]},"mark":{"type":"text","text":"50 ms","align":"center","baseline":"alphabetic","fontSize":27,"font":"Liberation Sans","color":"#000"},"encoding":{"x":{"datum":61},"y":{"datum":-0.904}}},
{"data":{"name":"labD"},"mark":{"type":"text","align":"left","baseline":"alphabetic","fontSize":27,"font":"Liberation Sans"},"encoding":{"x":{"field":"t","type":"quantitative"},"y":{"field":"v","type":"quantitative"},"text":{"field":"label"},"color":{"field":"k","type":"nominal","scale":{"domain":["f","ws","b","g","p","r","l","c","o"],"range":["#111111","#ee2a2f","#2f54a6","#1b9448","#d563b3","#9e1c22","#8a8a8a","#22c1d4","#f28a3c"]},"legend":null}}}
]},
{"title":{"text":"E","anchor":"start","frame":"group","fontSize":34,"fontWeight":"bold","font":"Liberation Sans","color":"#000","dx":-17,"offset":-6,"dy":10},
"width":328,"height":272,
"layer":[
{"data":{"name":"stE"},"mark":{"type":"line","interpolate":"step-after","color":"#000","strokeWidth":2},"encoding":{"x":{"field":"t","type":"quantitative","scale":{"domain":[-21,220],"nice":false,"zero":false}},"y":{"field":"v","type":"quantitative","scale":{"domain":[-1.42,0.21],"nice":false,"zero":false}}}},
{"data":{"values":[{}]},"mark":{"type":"rule","color":"#000","strokeWidth":1,"strokeDash":[3,3]},"encoding":{"x":{"datum":0.5},"x2":{"datum":219},"y":{"datum":0}}},
{"data":{"name":"E"},"mark":{"type":"line","strokeJoin":"round"},"encoding":{"x":{"field":"t","type":"quantitative"},"y":{"field":"v","type":"quantitative"},"color":{"field":"k","type":"nominal","scale":{"domain":["f","ws","b","g","p","r","l","c","o"],"range":["#111111","#ee2a2f","#2f54a6","#1b9448","#d563b3","#9e1c22","#8a8a8a","#22c1d4","#f28a3c"]},"legend":null},"strokeWidth":{"field":"k","type":"nominal","scale":{"domain":["f","ws","b","g","p","r","l","c","o"],"range":[1.7,1.3,1.3,1.3,1.3,1.3,1.2,1.3,1.3]},"legend":null}}},
{"data":{"values":[{}]},"mark":{"type":"rule","color":"#000","strokeWidth":4},"encoding":{"x":{"datum":139.7},"x2":{"datum":189.7},"y":{"datum":-0.365}}},
{"data":{"values":[{}]},"mark":{"type":"text","text":"50 ms","align":"center","baseline":"alphabetic","fontSize":27,"font":"Liberation Sans","color":"#000"},"encoding":{"x":{"datum":164.7},"y":{"datum":-0.521}}},
{"data":{"name":"labE"},"mark":{"type":"text","align":"left","baseline":"alphabetic","fontSize":27,"font":"Liberation Sans"},"encoding":{"x":{"field":"t","type":"quantitative"},"y":{"field":"v","type":"quantitative"},"text":{"field":"label"},"color":{"field":"k","type":"nominal","scale":{"domain":["f","ws","b","g","p","r","l","c","o"],"range":["#111111","#ee2a2f","#2f54a6","#1b9448","#d563b3","#9e1c22","#8a8a8a","#22c1d4","#f28a3c"]},"legend":null}}}
]}
]
}
